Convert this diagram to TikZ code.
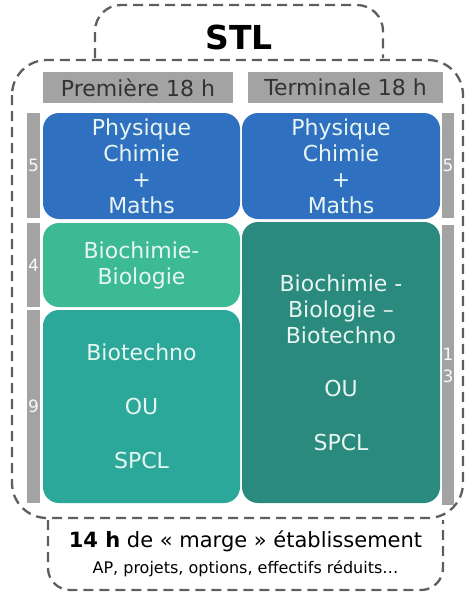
\documentclass[tikz,border=0pt]{standalone}
\usepackage{fontspec}
\setmainfont{DejaVu Sans}
\usetikzlibrary{positioning}
\definecolor{stlblue}{HTML}{3070C0}
\definecolor{stlmint}{HTML}{3CBA94}
\definecolor{stlteal}{HTML}{2BA89A}
\definecolor{stldark}{HTML}{2A8A7E}
\definecolor{stlgray}{HTML}{A3A3A3}
\definecolor{stldash}{HTML}{5E5E5E}
\definecolor{stltext}{HTML}{E8F6F1}

\begin{document}
\begin{tikzpicture}[x=1pt, y=-1pt,
    subj/.style={rectangle, rounded corners=16pt, inner sep=0pt, minimum width=197pt, text=stltext, align=center, font=\fontsize{22}{26}\selectfont},
    head/.style={rectangle, fill=stlgray, inner sep=0pt, minimum height=31pt, text=black!80, font=\fontsize{22}{26}\selectfont},
    bar/.style={rectangle, fill=stlgray, inner sep=0pt, minimum width=13pt, text=white!92!stlgray, align=center, font=\fontsize{17}{22}\selectfont},
    dashbox/.style={draw=stldash, line width=2.3pt, dash pattern=on 10pt off 6pt}
  ]
    \useasboundingbox (0,0) rectangle (474,595);

    % dashed frames
    \draw[dashbox, rounded corners=26pt] (95,58) -- (95,5) -- (383,5) -- (383,58);
    \draw[dashbox, rounded corners=35pt] (12,60) rectangle (463,518);
    \draw[dashbox, rounded corners=22pt] (48,520) -- (48,590) -- (443,590) -- (443,520);

    \node[font=\fontsize{33}{36}\selectfont\bfseries] (stl) at (239,37) {STL};

    % headers
    \node[head, minimum width=190pt] (prem) at (138,87.5) {Première 18 h};
    \node[head, minimum width=195pt] (term) at (345.5,87.5) {Terminale 18 h};

    % subjects
    \node[subj, fill=stlblue, minimum height=106pt] (pcA) at (141.5,166) {Physique\\Chimie\\+\\Maths};
    \node[subj, fill=stlblue, minimum height=106pt, minimum width=198pt] (pcB) at (341,166) {Physique\\Chimie\\+\\Maths};
    \node[subj, fill=stlmint, minimum height=84pt] (bioA) at (141.5,265) {Biochimie-\\Biologie};
    \node[subj, fill=stlteal, minimum height=193pt] (techA) at (141.5,406.5) {Biotechno\\[28pt]OU\\[28pt]SPCL};
    \node[subj, fill=stldark, minimum height=281pt, minimum width=198pt] (bioB) at (341,362.5) {Biochimie -\\Biologie --\\Biotechno\\[27pt]OU\\[28pt]SPCL};

    % hours
    \node[bar, minimum height=105pt] (hA1) at (33.5,165.5) {5};
    \node[bar, minimum height=84pt] (hA2) at (33.5,265) {4};
    \node[bar, minimum height=193pt] (hA3) at (33.5,406.5) {9};
    \node[bar, minimum height=105pt, minimum width=12pt] (hB1) at (448,165.5) {5};
    \node[bar, minimum height=280pt, minimum width=12pt] (hB2) at (448,365) {1\\3};

    % margin
    \node[font=\fontsize{21}{24}\selectfont] (marge) at (245.5,541) {\textbf{14 h} de « marge » établissement};
    \node[below=2pt of marge, font=\fontsize{16}{18}\selectfont] (extra) {AP, projets, options, effectifs réduits…};
  \end{tikzpicture}
\end{document}
